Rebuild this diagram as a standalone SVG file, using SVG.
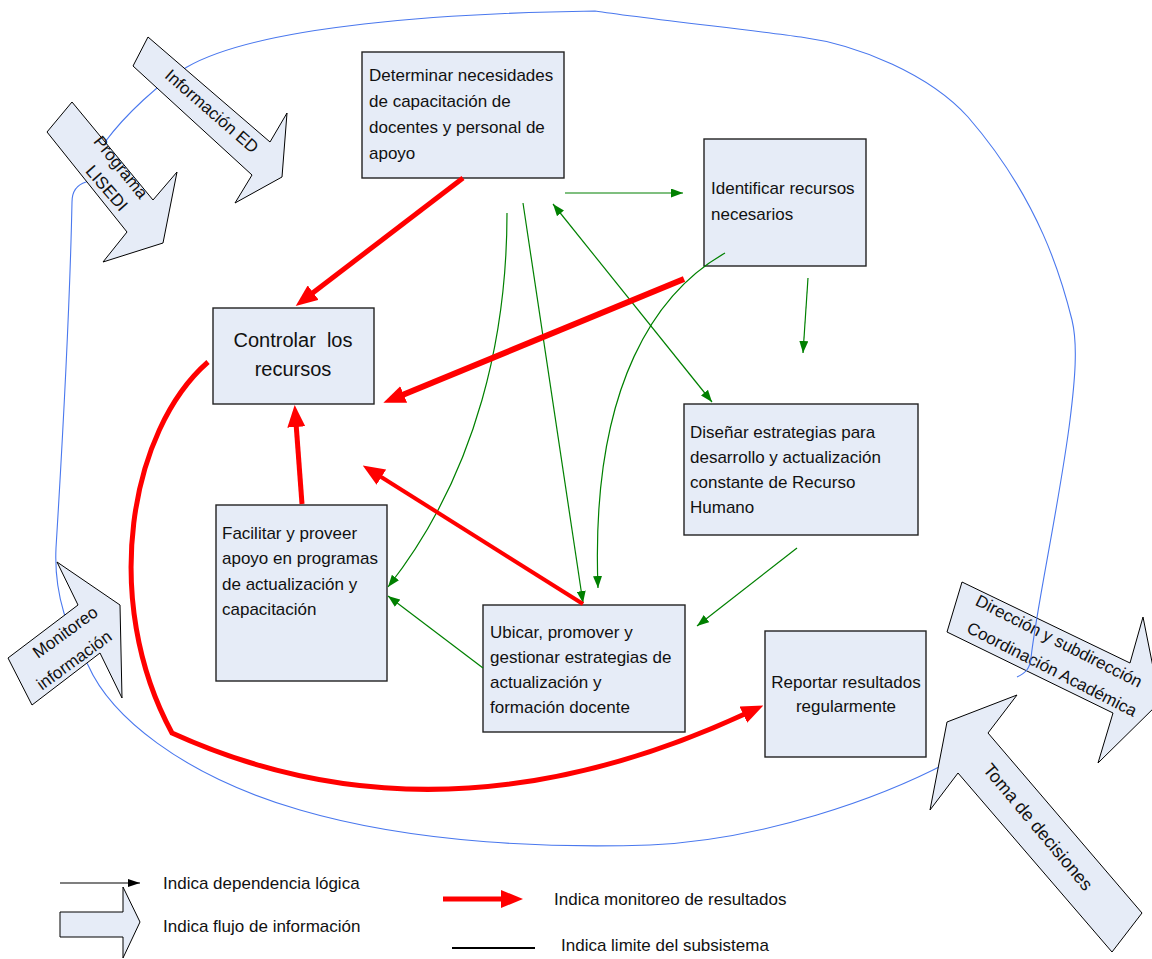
<svg xmlns="http://www.w3.org/2000/svg" width="1152" height="959" viewBox="0 0 1152 959">
  <style>
    .box { fill: #e6ecf7; stroke: #222; stroke-width: 1.4; }
    .flow { fill: #e6ecf7; stroke: #000; stroke-width: 1; stroke-linejoin: miter; }
    .t { font-family: "Liberation Sans", Arial, sans-serif; font-size: 17px; fill: #111; }
    .big { font-size: 20px; }
    .mid { text-anchor: middle; }
    .green { fill: none; stroke: #008000; stroke-width: 1.2; }
    .red { fill: none; stroke: #ff0000; stroke-linejoin: miter; }
    .limit { fill: none; stroke: #4a78ee; stroke-width: 1.1; }
  </style>
  <defs>
    <marker id="gArrow" viewBox="0 0 12 9" refX="12" refY="4.5" markerWidth="12" markerHeight="9" markerUnits="userSpaceOnUse" orient="auto-start-reverse">
      <path d="M0,0 L12,4.5 L0,9 z" fill="#008000"/>
    </marker>
    <marker id="rArrow" viewBox="0 0 22 18" refX="4" refY="9" markerWidth="22" markerHeight="18" markerUnits="userSpaceOnUse" orient="auto">
      <path d="M0,0 L22,9 L0,18 z" fill="#ff0000"/>
    </marker>
    <marker id="kArrow" viewBox="0 0 12 8" refX="12" refY="4" markerWidth="12" markerHeight="8" markerUnits="userSpaceOnUse" orient="auto">
      <path d="M0,0 L12,4 L0,8 z" fill="#000"/>
    </marker>
  </defs>

  <rect width="1152" height="959" fill="#fff"/>

  <!-- outgoing flow to management (sits under the boundary line) -->
  <g id="flow-direccion">
    <polygon class="flow" points="962,582 1130,663 1143,617 1160,702 1098,763 1113,713 947,632"/>
    <text class="t mid" transform="translate(1059,641) rotate(27)" y="6">Dirección y subdirección</text>
    <text class="t mid" transform="translate(1052,669) rotate(27)" y="6">Coordinación Académica</text>
  </g>

  <!-- subsystem boundary -->
  <g id="boundary">
    <path class="limit" d="M1017,677 C1026,673 1030,668 1031,658 C1036,610 1060,500 1070,420 C1075,380 1078,345 1072,320 C1062,280 1040,200 968,117 C930,75 860,45 801,37 C760,31 640,18 595,11 C450,13 260,25 187,67 C160,82 125,115 105,142 C95,156 100,178 86,182 C76,185 72,192 72,202 C70,300 62,450 56,548 C54,590 66,630 88,665 C110,715 180,775 300,810 C420,845 560,848 650,845 C760,840 880,800 958,757"/>
  </g>

  <!-- incoming / outgoing information flows -->
  <g id="flow-informacion-ed">
    <polygon class="flow" points="148,37 270,142 287,113 282,177 235,203 252,175 133,66"/>
    <text class="t mid" transform="translate(212,111) rotate(41)" y="6">Información ED</text>
  </g>
  <g id="flow-programa-lisedi">
    <polygon class="flow" points="72,102 153,200 177,172 163,243 103,262 127,232 47,132"/>
    <text class="t mid" transform="translate(121,167) rotate(51)" y="6">Programa</text>
    <text class="t mid" transform="translate(107,188) rotate(49)" y="6">LISEDI</text>
  </g>
  <g id="flow-monitoreo">
    <polygon class="flow" points="8,658 78,605 57,562 120,605 122,698 100,653 32,705"/>
    <text class="t mid" transform="translate(65,632) rotate(-36)" y="6">Monitoreo</text>
    <text class="t mid" transform="translate(74,660) rotate(-36)" y="6">información</text>
  </g>
  <g id="flow-toma-decisiones">
    <polygon class="flow" points="947,722 1017,695 988,733 1142,913 1112,952 958,773 930,810"/>
    <text class="t mid" transform="translate(1038,827) rotate(50)" y="6" style="font-size:18px">Toma de decisiones</text>
  </g>

  <!-- process nodes -->
  <g id="node-determinar">
    <rect class="box" x="362" y="52" width="202" height="126"/>
    <text class="t" x="369" y="81">Determinar necesidades</text>
    <text class="t" x="369" y="107">de capacitación de</text>
    <text class="t" x="369" y="133">docentes y personal de</text>
    <text class="t" x="369" y="159">apoyo</text>
  </g>
  <g id="node-identificar">
    <rect class="box" x="704" y="139" width="162" height="127"/>
    <text class="t" x="711" y="194">Identificar recursos</text>
    <text class="t" x="711" y="220">necesarios</text>
  </g>
  <g id="node-disenar">
    <rect class="box" x="684" y="404" width="234" height="131"/>
    <text class="t" x="690" y="438">Diseñar estrategias para</text>
    <text class="t" x="690" y="463">desarrollo y actualización</text>
    <text class="t" x="690" y="488">constante de Recurso</text>
    <text class="t" x="690" y="513">Humano</text>
  </g>
  <g id="node-controlar">
    <rect class="box" x="213" y="308" width="161" height="96"/>
    <text class="t big mid" x="293" y="347">Controlar&#160; los</text>
    <text class="t big mid" x="293" y="376">recursos</text>
  </g>
  <g id="node-facilitar">
    <rect class="box" x="216" y="505" width="171" height="176"/>
    <text class="t" x="222" y="539">Facilitar y proveer</text>
    <text class="t" x="222" y="564">apoyo en programas</text>
    <text class="t" x="222" y="590">de actualización y</text>
    <text class="t" x="222" y="615">capacitación</text>
  </g>
  <g id="node-ubicar">
    <rect class="box" x="483" y="605" width="202" height="127"/>
    <text class="t" x="490" y="638">Ubicar, promover y</text>
    <text class="t" x="490" y="663">gestionar estrategias de</text>
    <text class="t" x="490" y="688">actualización y</text>
    <text class="t" x="490" y="713">formación docente</text>
  </g>
  <g id="node-reportar">
    <rect class="box" x="765" y="631" width="161" height="126"/>
    <text class="t mid" x="846" y="688">Reportar resultados</text>
    <text class="t mid" x="846" y="712">regularmente</text>
  </g>

  <!-- connectors -->
  <g id="connectors">
    <!-- logical dependencies -->
    <path class="green" d="M565,193 L683,193" marker-end="url(#gArrow)"/>
    <path class="green" d="M553,204 L712,402" marker-start="url(#gArrow)" marker-end="url(#gArrow)"/>
    <path class="green" d="M523,203 L583,603" marker-end="url(#gArrow)"/>
    <path class="green" d="M507,213 C507,330 480,470 388,587" marker-end="url(#gArrow)"/>
    <path class="green" d="M725,253 C660,290 590,380 598,588" marker-end="url(#gArrow)"/>
    <path class="green" d="M808,278 L803,353" marker-end="url(#gArrow)"/>
    <path class="green" d="M797,548 L697,626" marker-end="url(#gArrow)"/>
    <path class="green" d="M483,668 L388,596" marker-end="url(#gArrow)"/>
    <!-- result monitoring -->
    <path class="red" stroke-width="5" d="M463,178 L310,295" marker-end="url(#rArrow)"/>
    <path class="red" stroke-width="6" d="M684,279 L400,396" marker-end="url(#rArrow)"/>
    <path class="red" stroke-width="5" d="M302,504 L296,423" marker-end="url(#rArrow)"/>
    <path class="red" stroke-width="4" d="M583,604 L378,475" marker-end="url(#rArrow)"/>
    <path class="red" stroke-width="5" d="M208,362 C130,430 100,600 172,733 Q440,855 747,713" marker-end="url(#rArrow)"/>
  </g>

  <!-- legend -->
  <g id="legend">
    <path d="M60,883 L140,883" stroke="#000" stroke-width="1.2" fill="none" marker-end="url(#kArrow)"/>
    <text class="t" x="163" y="889">Indica dependencia lógica</text>
    <polygon class="flow" points="60,912 123,912 123,887 140,922 123,958 123,937 60,937"/>
    <text class="t" x="163" y="932">Indica flujo de información</text>
    <path class="red" stroke-width="5" d="M443,899 L505,899" marker-end="url(#rArrow)"/>
    <text class="t" x="554" y="905">Indica monitoreo de resultados</text>
    <path d="M452,948 L535,948" stroke="#000" stroke-width="2.2" fill="none"/>
    <text class="t" x="561" y="951">Indica limite del subsistema</text>
  </g>
</svg>
